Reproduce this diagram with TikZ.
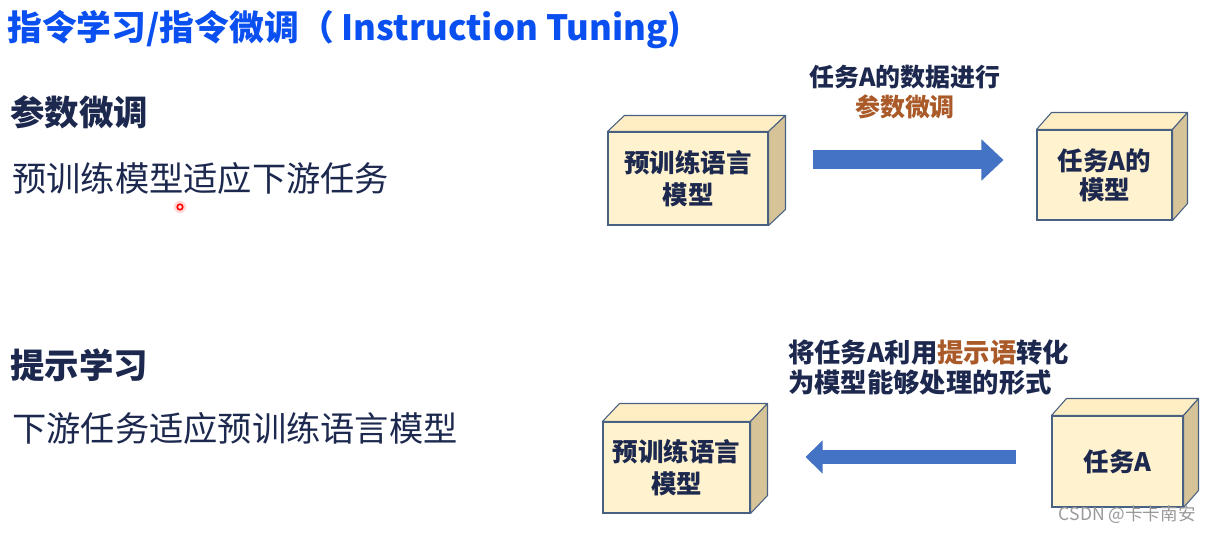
\documentclass[tikz,border=0pt]{standalone}
\usepackage{fontspec}
\setmainfont{Noto Sans CJK SC}
\usetikzlibrary{arrows.meta}

\definecolor{titleblue}{RGB}{10,80,240}
\definecolor{navy}{RGB}{28,40,78}
\definecolor{brownish}{RGB}{170,90,40}
\definecolor{boxfront}{RGB}{255,242,206}
\definecolor{boxtop}{RGB}{255,238,196}
\definecolor{boxside}{RGB}{214,196,152}
\definecolor{boxedge}{RGB}{72,96,130}
\definecolor{arrowblue}{RGB}{68,114,196}

% top and right faces of a box, #1 = front node, (#2,#3) = depth
\newcommand{\boxfaces}[3]{%
    \filldraw[fill=boxtop, draw=boxedge, line width=0.6pt, line join=round]
        (#1.north west) -- ++(#2,#3) -- ([shift={(#2,#3)}]#1.north east) -- (#1.north east) -- cycle;
    \filldraw[fill=boxside, draw=boxedge, line width=0.6pt, line join=round]
        (#1.north east) -- ++(#2,#3) -- ([shift={(#2,#3)}]#1.south east) -- (#1.south east) -- cycle;
}

\begin{document}
\begin{tikzpicture}[x=0.02cm, y=-0.02cm,
    front/.style={draw=boxedge, fill=boxfront, line width=0.6pt, inner sep=0pt,
        align=center, text=navy, font=\fontsize{14.5pt}{18.1pt}\selectfont\bfseries},
    bluearrow/.style={draw=arrowblue, line width=0.38cm,
        -{Triangle[length=0.44cm, width=0.8cm]}},
    heading/.style={anchor=west, inner sep=0pt, text=navy, font=\fontsize{19.6pt}{23pt}\selectfont\bfseries},
    plain/.style={anchor=west, inner sep=0pt, text=navy, font=\fontsize{19.5pt}{23pt}\selectfont}]

    \useasboundingbox (0,0) rectangle (1211,533);

    \node[anchor=west, inner sep=0pt, text=titleblue, font=\fontsize{19.8pt}{23pt}\selectfont\bfseries]
        (title) at (7,30) {指令学习/指令微调（ Instruction Tuning)};

    \node[heading] (tune) at (10,112) {参数微调};
    \node[plain] (tunetext) at (12,178) {预训练模型适应下游任务};
    \node[heading] (prompt) at (10,365) {提示学习};
    \node[plain] (prompttext) at (12,428) {下游任务适应预训练语言模型};

    % cursor mark
    \fill[red!15] (180,207) circle (3.5pt);
    \draw[red, line width=0.9pt] (180,207) circle (1.6pt);

    % upper row
    \node[front, minimum width=3.2cm, minimum height=1.86cm, font=\fontsize{14.5pt}{18.1pt}\selectfont\bfseries]
        (plm1) at (688,178.5) {预训练语言\\模型};
    \boxfaces{plm1}{17}{-16}
    \node[front, minimum width=2.7cm, minimum height=1.8cm, font=\fontsize{14.5pt}{16.4pt}\selectfont\bfseries]
        (modela) at (1104.5,175) {任务A的\\模型};
    \boxfaces{modela}{15}{-17}

    \draw[bluearrow] ([shift={(44,-18.5)}]plm1.east) -- ([shift={(-33,-15)}]modela.west);
    \node[align=center, text=navy, font=\fontsize{14.2pt}{17pt}\selectfont\bfseries]
        (lab1) at (905,92) {任务A的数据进行\\\textcolor{brownish}{参数微调}};

    % lower row
    \node[front, minimum width=2.94cm, minimum height=1.82cm]
        (plm2) at (676.5,467.5) {预训练语言\\模型};
    \boxfaces{plm2}{17}{-18}
    \node[front, minimum width=2.62cm, minimum height=1.82cm]
        (taska) at (1117.5,461.5) {任务A};
    \boxfaces{taska}{15}{-17}

    \draw[draw=arrowblue, line width=0.28cm, -{Triangle[length=0.34cm, width=0.64cm]}]
        ([shift={(-35,-4.5)}]taska.west) -- ([shift={(55,-10.5)}]plm2.east);
    \node[anchor=west, align=left, text=navy, font=\fontsize{15pt}{17.6pt}\selectfont\bfseries]
        (lab2) at (782,367.5) {将任务A利用\textcolor{brownish}{提示语}转化\\为模型能够处理的形式};

    \node[anchor=east, inner sep=0pt, text=gray!80, font=\fontsize{10pt}{12pt}\selectfont]
        (mark) at (1196,515) {CSDN @卡卡南安};
\end{tikzpicture}
\end{document}
